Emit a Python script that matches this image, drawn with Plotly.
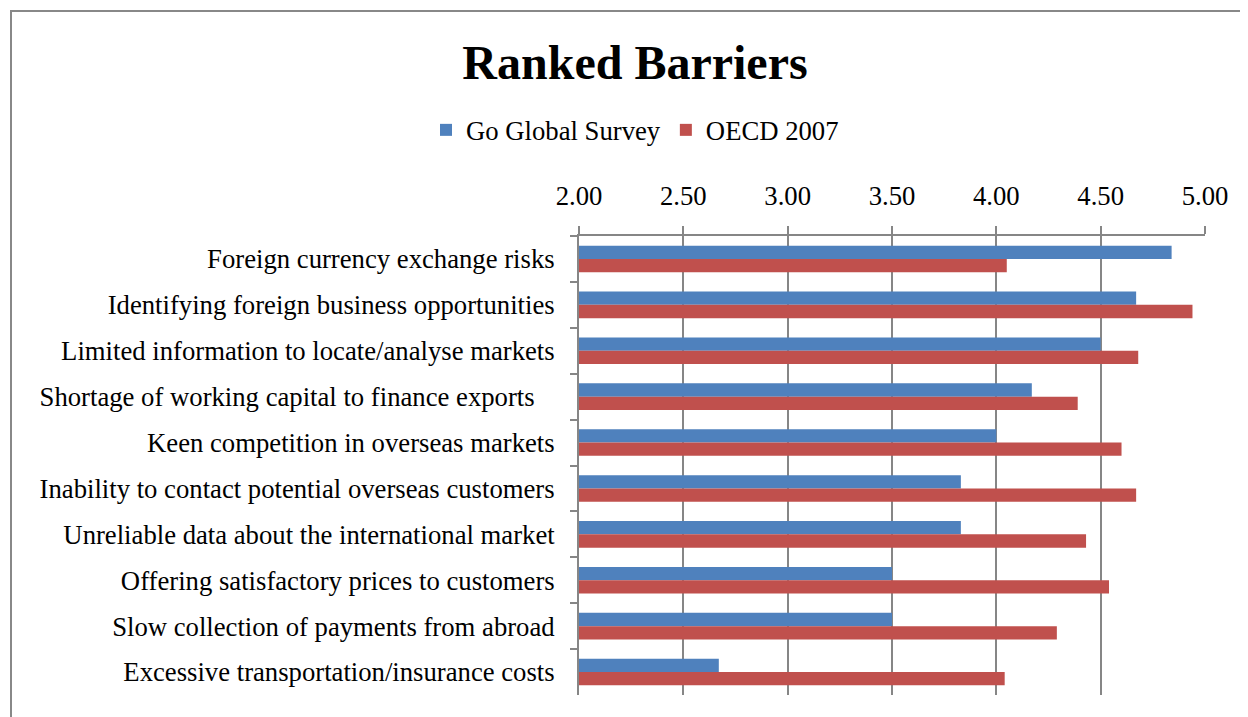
import plotly.graph_objects as go

categories = [
    "Foreign currency exchange risks",
    "Identifying foreign business opportunities",
    "Limited information to locate/analyse markets",
    "Shortage of working capital to finance exports\u00a0\u00a0\u00a0",
    "Keen competition in overseas markets",
    "Inability to contact potential overseas customers",
    "Unreliable data about the international market",
    "Offering satisfactory prices to customers",
    "Slow collection of payments from abroad",
    "Excessive transportation/insurance costs",
]
go_global = [4.84, 4.67, 4.50, 4.17, 4.00, 3.83, 3.83, 3.50, 3.50, 2.67]
oecd_2007 = [4.05, 4.94, 4.68, 4.39, 4.60, 4.67, 4.43, 4.54, 4.29, 4.04]
tick_vals = [2.0, 2.5, 3.0, 3.5, 4.0, 4.5, 5.0]

OFF = 8  # page body margin
W, H = 1248 - OFF, 717 - OFF
L, R, T, B = 579 - OFF, 1205 - OFF, 236 - OFF, 695 - OFF
pw, ph = R - L, B - T

def px_x(x):
    return (x - OFF - L) / pw

def px_y(y):
    return (B - (y - OFF)) / ph

font = "Liberation Serif"
grid = "#868686"
fs = 26.7

fig = go.Figure()
fig.add_trace(go.Bar(y=categories, x=go_global, orientation="h", name="Go Global Survey",
                     marker=dict(color="#4F81BD", line=dict(width=0))))
fig.add_trace(go.Bar(y=categories, x=oecd_2007, orientation="h", name="OECD 2007",
                     marker=dict(color="#C0504D", line=dict(width=0))))

fig.update_layout(
    width=W, height=H,
    margin=dict(l=L, r=W - R, t=T, b=H - B, pad=0),
    paper_bgcolor="white", plot_bgcolor="white",
    font=dict(family=font, size=fs, color="black"),
    barmode="group", bargap=0.42, bargroupgap=0,
    title=dict(text="<b>Ranked Barriers</b>", font=dict(size=48, family=font, color="black"),
               x=(635 - OFF) / W, xanchor="center", xref="container",
               y=1 - (62 - OFF) / H, yanchor="middle", yref="container"),
    legend=dict(orientation="h", x=px_x(635), xanchor="center", y=px_y(130), yanchor="middle",
                font=dict(size=fs, family=font), traceorder="normal",
                itemwidth=30, bgcolor="rgba(0,0,0,0)"),
    xaxis=dict(side="top", range=[2, 5], tickvals=tick_vals, tickformat=".2f",
               showgrid=True, gridcolor=grid, gridwidth=2,
               showline=True, linecolor=grid, linewidth=2,
               ticks="outside", ticklen=8, tickwidth=2, tickcolor=grid,
               zeroline=False, tickfont=dict(size=fs, family=font), ticklabelstandoff=10),
    yaxis=dict(autorange="reversed", showline=True, linecolor=grid, linewidth=2,
               ticks="outside", ticklen=7, tickwidth=2, tickcolor=grid, tickson="boundaries",
               showgrid=False, tickfont=dict(size=fs, family=font), ticklabelstandoff=17),
    showlegend=True,
)

fig.add_shape(type="rect", xref="paper", yref="paper",
              x0=px_x(11), x1=px_x(1270), y0=px_y(11), y1=px_y(760),
              line=dict(color="#888888", width=2), fillcolor="rgba(0,0,0,0)", layer="below")

fig.write_html("out.html")
